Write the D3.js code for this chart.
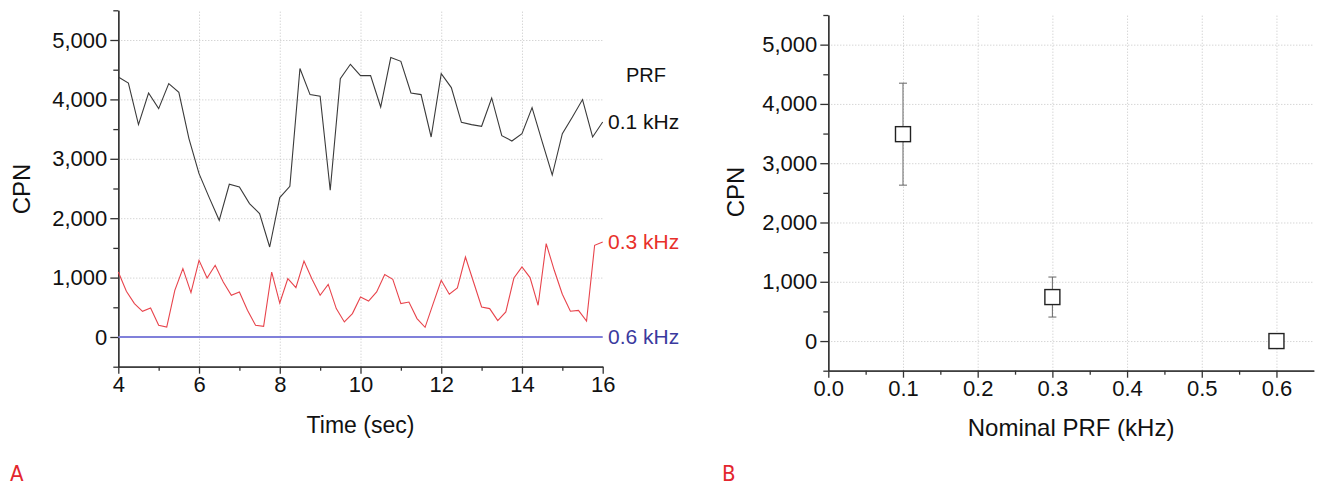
<!DOCTYPE html>
<html>
<head>
<meta charset="utf-8">
<script src="https://cdn.jsdelivr.net/npm/d3@7"></script>
<style>
  body { margin: 0; background: #fff; }
  svg { display: block; font-family: "Liberation Sans", Arial, Helvetica, sans-serif; }
  .grid line { stroke: #c4c4c4; stroke-dasharray: 1,2; }
  .grid path { display: none; }
  .axis path, .axis line { stroke: #333; stroke-width: 1.3; }
  .label { font-family: "Liberation Sans", Arial, sans-serif; font-size: 23px; fill: #111; }
  .panel { font-family: "DejaVu Sans Condensed", "DejaVu Sans", sans-serif; font-stretch: condensed; font-size: 22px; fill: #e3262e; }
</style>
</head>
<body>
<svg id="chart" width="1318" height="489"></svg>
<script>
// panel A: CPN over time for three PRF settings
const timeStart = 4, timeEnd = 16;
const cpn01 = [4377, 4276, 3576, 4108, 3845, 4266, 4120, 3340, 2751, 2350, 1965, 2571, 2525,
  2246, 2077, 1515, 2347, 2537, 4519, 4081, 4052, 2470, 4350, 4591, 4400, 4400, 3872, 4704,
  4641, 4108, 4081, 3367, 4434, 4199, 3614, 3576, 3547, 4024, 3390, 3300, 3424, 3862, 3290,
  2727, 3424, 3704, 3997, 3367, 3620];           // sampled every 0.25 s
const cpn03 = [1094, 769, 562, 433, 488, 197, 168, 786, 1151, 747, 1291, 993, 1207, 926, 702,
  758, 449, 197, 180, 1094, 572, 983, 832, 1279, 971, 702, 887, 478, 253, 394, 673, 606, 758,
  1050, 971, 562, 589, 310, 163, 562, 955, 719, 825, 1347, 926, 505, 478, 276, 421, 993, 1178,
  1000, 534, 1572, 1123, 719, 433, 449, 269, 1544, 1599]; // sampled every 0.2 s
const cpn06 = [0, 0];                              // flat at zero over the whole run
const seriesLabels = ["0.1 kHz", "0.3 kHz", "0.6 kHz"];
const seriesColors = ["#3a3a3a", "#e8444c", "#8080da"];
const labelColors = ["#111", "#e8302a", "#3a3a9e"];
const timeTicks = [4, 6, 8, 10, 12, 14, 16];
const cpnTicks = [0, 1000, 2000, 3000, 4000, 5000];

// panel B: mean CPN with error bars per nominal PRF
const prf = [0.1, 0.3, 0.6];
const prfMean = [3490, 742, 0];
const prfLow = [2630, 405, 0];
const prfHigh = [4350, 1080, 0];
const prfTicks = [0.0, 0.1, 0.2, 0.3, 0.4, 0.5, 0.6];

const svg = d3.select("#chart");
const fmt = d3.format(",");

function styleTicks(sel) {
  sel.selectAll("text")
    .style("font-family", "'Liberation Sans', Arial, sans-serif")
    .style("font-size", "22px")
    .style("fill", "#111");
}

function yAxes(g, y, x0, x1) {
  g.append("g").attr("class", "grid")
    .attr("transform", "translate(" + x0 + ",0)")
    .call(d3.axisLeft(y).tickValues(cpnTicks).tickSize(-(x1 - x0)).tickFormat(""));
  let minor = d3.range(-500, 5501, 1000);
  g.append("g").attr("class", "axis")
    .attr("transform", "translate(" + x0 + ",0)")
    .call(d3.axisLeft(y).tickValues(minor).tickSize(5).tickFormat("").tickSizeOuter(0));
  g.append("g").attr("class", "axis")
    .attr("transform", "translate(" + x0 + ",0)")
    .call(d3.axisLeft(y).tickValues(cpnTicks).tickSize(8).tickPadding(3).tickFormat(fmt).tickSizeOuter(0))
    .call(styleTicks);
}

function xAxes(g, x, yb, major, minor, format) {
  g.append("g").attr("class", "axis")
    .attr("transform", "translate(0," + yb + ")")
    .call(d3.axisBottom(x).tickValues(minor).tickSize(4).tickFormat("").tickSizeOuter(0));
  g.append("g").attr("class", "axis")
    .attr("transform", "translate(0," + yb + ")")
    .call(d3.axisBottom(x).tickValues(major).tickSize(7).tickPadding(3).tickFormat(format).tickSizeOuter(0))
    .call(styleTicks);
}

// ---------- panel A ----------
{
  const x = d3.scaleLinear().domain([timeStart, timeEnd]).range([118.3, 602.7]);
  const y = d3.scaleLinear().domain([-500, 5500]).range([366.7, 10.3]);
  const g = svg.append("g");

  g.append("g").attr("class", "grid")
    .attr("transform", "translate(0,366.7)")
    .call(d3.axisBottom(x).tickValues(timeTicks.slice(1, -1)).tickSize(-(366.7 - 10.3)).tickFormat(""));
  yAxes(g, y, 118.3, 602.7);

  const t01 = d3.range(timeStart, timeEnd + 0.001, 0.25);
  const t03 = d3.range(timeStart, timeEnd + 0.001, 0.2);
  const t06 = [timeStart, timeEnd];
  const series = [[t01, cpn01], [t03, cpn03], [t06, cpn06]];
  const line = d3.line().x(d => x(d[0])).y(d => y(d[1]));

  series.forEach((s, i) => {
    let pts = s[0].map((t, j) => [t, s[1][j]]);
    g.append("path")
      .attr("d", line(pts))
      .attr("fill", "none")
      .attr("stroke", seriesColors[i])
      .attr("stroke-width", i == 2 ? 1.8 : 1.1)
      .attr("stroke-linejoin", "miter");
    g.append("text")
      .attr("x", 608)
      .attr("y", y(pts[pts.length - 1][1]))
      .attr("dy", "0.35em")
      .attr("font-size", 21)
      .attr("fill", labelColors[i])
      .text(seriesLabels[i]);
  });
  g.append("text")
    .attr("x", 646).attr("y", y(cpn01[cpn01.length - 1]) - 47)
    .attr("dy", "0.35em").attr("text-anchor", "middle")
    .attr("font-size", 20).attr("fill", "#111")
    .text("PRF");

  xAxes(g, x, 366.7, timeTicks, d3.range(5, 16, 2), d3.format("d"));

  g.append("text").attr("class", "label")
    .attr("transform", "translate(30," + 189 + ") rotate(-90)")
    .attr("text-anchor", "middle")
    .style("font-size", "24px")
    .text("CPN");
  g.append("text").attr("class", "label")
    .attr("x", (118.3 + 602.7) / 2).attr("y", 433)
    .attr("text-anchor", "middle")
    .text("Time (sec)");
  g.append("text").attr("class", "panel").attr("x", 10).attr("y", 481).text("A");
}

// ---------- panel B ----------
{
  const x = d3.scaleLinear().domain([0, 0.65]).range([828.3, 1313.8]);
  const y = d3.scaleLinear().domain([-500, 5500]).range([370.7, 15]);
  const g = svg.append("g");

  g.append("g").attr("class", "grid")
    .attr("transform", "translate(0,370.7)")
    .call(d3.axisBottom(x).tickValues(prfTicks.slice(1)).tickSize(-(370.7 - 15)).tickFormat(""));
  yAxes(g, y, 828.3, 1313.8);

  const pts = prf.map((p, i) => ({ p: p, m: prfMean[i], lo: prfLow[i], hi: prfHigh[i] }));
  const bars = g.selectAll(".err").data(pts.filter(d => d.hi > d.lo)).enter().append("g")
    .attr("stroke", "#666").attr("stroke-width", 1);
  bars.append("line")
    .attr("x1", d => x(d.p)).attr("x2", d => x(d.p))
    .attr("y1", d => y(d.lo)).attr("y2", d => y(d.hi));
  bars.append("line")
    .attr("x1", d => x(d.p) - 4).attr("x2", d => x(d.p) + 4)
    .attr("y1", d => y(d.hi)).attr("y2", d => y(d.hi));
  bars.append("line")
    .attr("x1", d => x(d.p) - 4).attr("x2", d => x(d.p) + 4)
    .attr("y1", d => y(d.lo)).attr("y2", d => y(d.lo));

  g.selectAll(".pt").data(pts).enter().append("rect")
    .attr("x", d => x(d.p) - 7.5).attr("y", d => y(d.m) - 7.5)
    .attr("width", 15).attr("height", 15)
    .attr("fill", "#fff").attr("stroke", "#222").attr("stroke-width", 1.4);

  xAxes(g, x, 370.7, prfTicks, [0.05, 0.15, 0.25, 0.35, 0.45, 0.55], d3.format(".1f"));

  g.append("text").attr("class", "label")
    .attr("transform", "translate(744," + 192 + ") rotate(-90)")
    .attr("text-anchor", "middle")
    .style("font-size", "24px")
    .text("CPN");
  g.append("text").attr("class", "label")
    .attr("x", (828.3 + 1313.8) / 2).attr("y", 436)
    .attr("text-anchor", "middle")
    .style("font-size", "24px")
    .text("Nominal PRF (kHz)");
  g.append("text").attr("class", "panel").attr("x", 722).attr("y", 481).text("B");
}
</script>
</body>
</html>
